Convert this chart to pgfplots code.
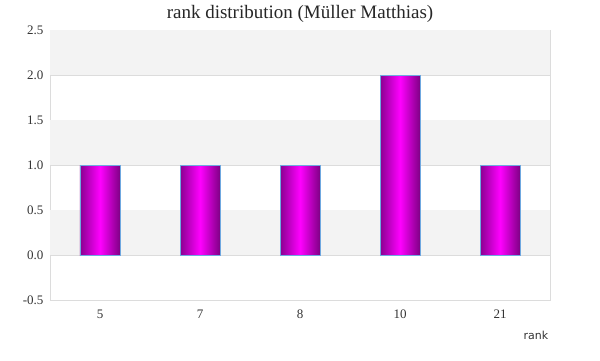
\documentclass[border=0pt]{standalone}
\usepackage{pgfplots}
\pgfplotsset{compat=1.18}
\usepackage{fontspec}
\setmainfont{Liberation Serif}
\newfontfamily\labfont{DejaVu Sans}
\definecolor{band}{HTML}{F3F3F3}
\definecolor{gridc}{HTML}{DCDCDC}
\definecolor{barb}{HTML}{6FA8E0}
\definecolor{bdark}{HTML}{8A0090}
\definecolor{bmid}{HTML}{FF00FF}
\begin{document}
\begin{tikzpicture}[x=1pt,y=1pt]
\useasboundingbox (0,0) rectangle (600,360);
\begin{axis}[
  at={(50pt,60pt)}, anchor=south west,
  width=500pt, height=270pt, scale only axis,
  xmin=-0.5, xmax=4.5, ymin=-0.5, ymax=2.5,
  xtick={0,1,2,3,4}, xticklabels={5,7,8,10,21},
  ytick={-0.5,0,0.5,1,1.5,2,2.5},
  yticklabel style={/pgf/number format/fixed, /pgf/number format/fixed zerofill, /pgf/number format/precision=1, xshift=-3pt},
  /pgf/number format/assume math mode=true,
  ymajorgrids, major grid style={gridc, line width=0.8pt},
  axis line style={gridc, line width=0.8pt},
  major tick length=0pt,
  tick label style={font=\fontsize{13}{15}\selectfont, text=black!80},
  xticklabel style={yshift=-6pt},
  barsty/.style={ybar, bar width=40pt, bar shift=0pt, draw=barb, line width=0.8pt,
    left color=bdark, right color=bdark!92!black, middle color=bmid},
]
\addplot[draw=none, fill=band] coordinates {(-0.5,0) (4.5,0) (4.5,0.5) (-0.5,0.5)} -- cycle;
\addplot[draw=none, fill=band] coordinates {(-0.5,1) (4.5,1) (4.5,1.5) (-0.5,1.5)} -- cycle;
\addplot[draw=none, fill=band] coordinates {(-0.5,2) (4.5,2) (4.5,2.5) (-0.5,2.5)} -- cycle;
\addplot[barsty] coordinates {(0,1)};
\addplot[barsty] coordinates {(1,1)};
\addplot[barsty] coordinates {(2,1)};
\addplot[barsty] coordinates {(3,2)};
\addplot[barsty] coordinates {(4,1)};
\end{axis}
\node at (300,346) {\color{black!85}\fontsize{19}{21}\selectfont rank distribution (Müller Matthias)};
\node at (536,25) {\labfont\fontsize{11}{13}\selectfont\color{black!80} rank};
\end{tikzpicture}
\end{document}
